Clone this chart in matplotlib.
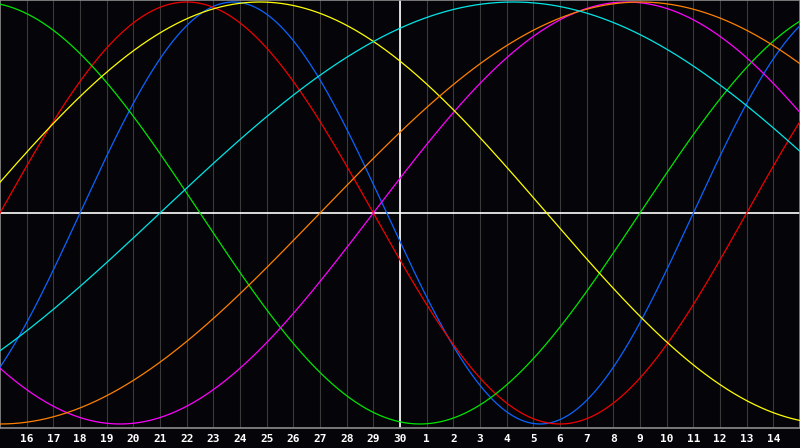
import numpy as np
import matplotlib
matplotlib.use("Agg")
import matplotlib.pyplot as plt

# day labels along the bottom (end of one month into the next)
day_labels = list(range(16, 31)) + list(range(1, 15))

# cycle lengths (days) and the day index where each curve crosses zero going up
periods = [23, 28, 33, 38, 43, 48, 53]
zero_day = [2, -1, 23, 13, -2, 11, 5]
colors = ["#0a64ff", "#f00000", "#00e600", "#ff00ff", "#ffff00", "#ff8000", "#00e6e6"]

bg = "#050509"

fig = plt.figure(figsize=(8, 4.48), dpi=100, facecolor=bg)
ax = fig.add_axes([0, 20 / 448, 1, 428 / 448], facecolor=bg)

t = np.linspace(-1, 29, 2401)

# day grid
for i in range(len(day_labels)):
    ax.axvline(i, color="#3a3a3a", lw=0.8, zorder=1)

# centre cross
ax.axhline(0, color="white", lw=1.2, zorder=2)
ax.axvline(day_labels.index(30), color="white", lw=1.2, zorder=2)

for p, z, c in zip(periods, zero_day, colors):
    ax.plot(t, np.sin(2 * np.pi * (t - z) / p), color=c, lw=0.9, zorder=3)

ax.set_xlim(-1, 29)
ax.set_ylim(-1.019, 1.0095)

ax.set_xticks(range(len(day_labels)))
ax.set_xticklabels([str(d) for d in day_labels], color="white",
                   fontsize=8, fontweight="bold", family="DejaVu Sans Mono")
ax.tick_params(axis="x", length=0, pad=4)
ax.set_yticks([])

for s in ax.spines.values():
    s.set_color("#8c8c8c")
    s.set_linewidth(1.2)

fig.savefig("out.png", dpi=100, facecolor=bg)
